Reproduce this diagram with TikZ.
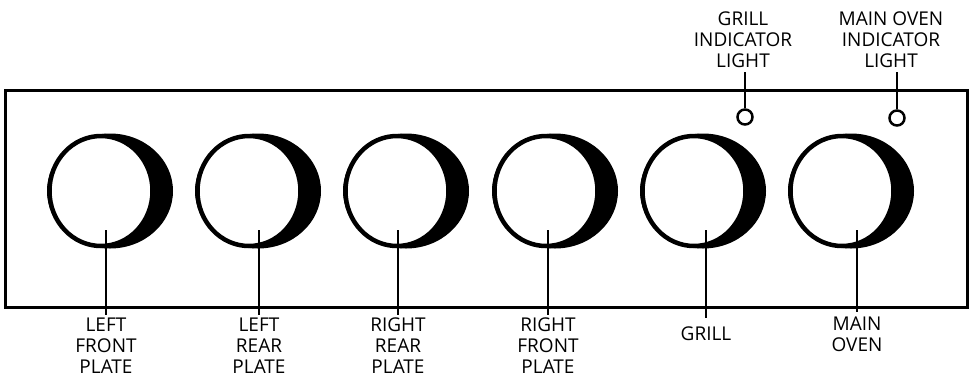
\documentclass[tikz,border=0pt]{standalone}
\usepackage{fontspec}
\setmainfont{Open Sans}
\usetikzlibrary{positioning}

\tikzset{
  panel/.style={draw, line width=3pt},
  ring/.style={draw, fill=white, line width=4.5pt},
  shadow/.style={fill=black},
  lamp/.style={draw, circle, line width=2.5pt, minimum size=15pt, inner sep=0pt},
  lead/.style={line width=2.5pt},
  knoblabel/.style={align=center, font=\fontsize{19}{21}\selectfont,
    inner xsep=0pt, anchor=north},
  lamplabel/.style={align=center, font=\fontsize{19}{21}\selectfont,
    inner xsep=0pt, inner ysep=4pt, anchor=south}
}

\begin{document}
\begin{tikzpicture}[x=1pt, y=-1pt]
  \useasboundingbox (0,0) rectangle (974,381);

  % control panel
  \draw[panel] (5,90) rectangle (967,307);

  % knobs with their labels
  \foreach \i/\cx/\lx/\ly/\gap/\name in {
    1/101/106/315/3/{LEFT\\FRONT\\PLATE},
    2/249/259/315/3/{LEFT\\REAR\\PLATE},
    3/397/398/315/3/{RIGHT\\REAR\\PLATE},
    4/546/548/315/3/{RIGHT\\FRONT\\PLATE},
    5/694/706/318/9/{GRILL},
    6/842/857/312/5/{MAIN\\OVEN}}{
    \fill[shadow] (\cx+9,191) ellipse [x radius=63, y radius=57.5];
    \draw[ring] (\cx,191) ellipse [x radius=51.5, y radius=55];
    \coordinate (knob\i) at (\lx,230);
    \node[knoblabel, inner ysep=\gap pt] (name\i) at (\lx,\ly) {\name};
    \draw[lead] (knob\i) -- (name\i.north);
  }

  % indicator lights
  \node[lamp] (grilllamp) at (745,117) {};
  \node[lamplabel] (grilltext) at (743,72) {GRILL\\INDICATOR\\LIGHT};
  \draw[lead] (grilllamp.north) -- (grilllamp.north |- grilltext.south);

  \node[lamp] (ovenlamp) at (897,118) {};
  \node[lamplabel] (oventext) at (891,72) {MAIN OVEN\\INDICATOR\\LIGHT};
  \draw[lead] (ovenlamp.north) -- (ovenlamp.north |- oventext.south);
\end{tikzpicture}
\end{document}
